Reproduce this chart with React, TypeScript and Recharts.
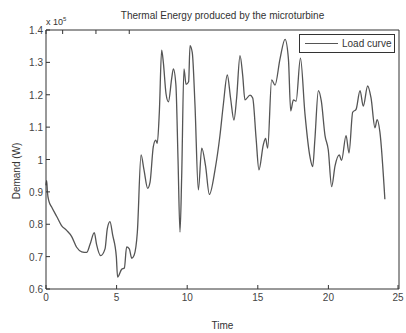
import { LineChart, Line, XAxis, YAxis, Legend } from 'recharts'

const times = [
    0, 0.05, 0.1, 0.2, 0.4, 0.76, 1.1, 1.46, 1.82, 2.17, 2.53, 2.88, 3.12, 3.42, 3.58, 3.87, 4.18, 4.34,
    4.53, 4.72, 4.98, 5.07, 5.36, 5.55, 5.71, 5.9, 6.07, 6.24, 6.47, 6.73, 6.94, 7.2, 7.37, 7.6, 7.77,
    7.88, 8.03, 8.19, 8.31, 8.5, 8.67, 8.9, 9.02, 9.2, 9.35, 9.49, 9.61, 9.77, 9.92, 10.1, 10.2, 10.36,
    10.55, 10.79, 11.03, 11.3, 11.57, 11.97, 12.32, 12.56, 12.84, 13.07, 13.31, 13.5, 13.74, 13.93,
    14.09, 14.45, 14.64, 14.88, 15.08, 15.39, 15.55, 15.7, 15.98, 16.22, 16.57, 16.93, 17.17, 17.33,
    17.52, 17.71, 18.02, 18.34, 18.7, 18.89, 19.04, 19.29, 19.5, 19.76, 19.99, 20.23, 20.47, 20.77,
    20.93, 21.25, 21.46, 21.72, 21.96, 22.24, 22.47, 22.78, 23.02, 23.3, 23.45, 23.65, 24.0,
]

// demand in units of 1e5 W
const demand = [
    0.92, 0.935, 0.9, 0.872, 0.853, 0.824, 0.796, 0.781, 0.762, 0.729, 0.715, 0.713, 0.738, 0.774,
    0.738, 0.703, 0.724, 0.786, 0.808, 0.767, 0.7, 0.637, 0.661, 0.665, 0.73, 0.724, 0.695, 0.704,
    0.776, 1.014, 0.968, 0.911, 0.93, 1.04, 1.06, 1.05, 1.15, 1.338, 1.3, 1.203, 1.178, 1.25, 1.28,
    1.23, 1.0, 0.776, 0.949, 1.28, 1.232, 1.24, 1.352, 1.33, 1.17, 0.906, 1.035, 0.98, 0.892, 0.968,
    1.074, 1.17, 1.261, 1.19, 1.122, 1.19, 1.321, 1.26, 1.184, 1.199, 1.19, 1.065, 0.968, 1.045,
    1.065, 1.035, 1.246, 1.23, 1.31, 1.371, 1.31, 1.15, 1.184, 1.18, 1.313, 1.141, 1.007, 0.978, 1.06,
    1.213, 1.18, 1.074, 1.03, 0.916, 0.98, 1.014, 0.997, 1.074, 1.02, 1.146, 1.155, 1.213, 1.165,
    1.227, 1.19, 1.098, 1.123, 1.084, 0.877,
]

const xTicks = [0, 5, 10, 15, 20, 25]
const yTicks = [60000, 70000, 80000, 90000, 100000, 110000, 120000, 130000, 140000]

const data = times.map((t, i) => ({ time: t, load: demand[i] * 100000 }))

const ink = '#333'
const font = '"Liberation Sans", Arial, sans-serif'

const fmtY = (v: number) => String(Math.round(v / 10000) / 10)

const BottomTick = ({ x, y, payload }: any) => (
    <g>
        <line x1={x} y1={y} x2={x} y2={y - 4} stroke={ink} />
        <text x={x} y={y + 12} textAnchor="middle" fontSize={10} fill="#444" fontFamily={font}>
            {payload.value}
        </text>
    </g>
)

const TopTick = ({ x, y }: any) => <line x1={x} y1={y} x2={x} y2={y + 4} stroke={ink} />

const LeftTick = ({ x, y, payload }: any) => (
    <g>
        <line x1={x} y1={y} x2={x + 4} y2={y} stroke={ink} />
        <text x={x - 3} y={y + 4} textAnchor="end" fontSize={10} fill="#444" fontFamily={font}>
            {fmtY(payload.value)}
        </text>
    </g>
)

const RightTick = ({ x, y }: any) => <line x1={x} y1={y} x2={x - 4} y2={y} stroke={ink} />

const LegendBox = () => (
    <div
        style={{
            border: `1px solid ${ink}`,
            width: 96,
            height: 19,
            background: 'white',
            display: 'flex',
            alignItems: 'center',
            fontFamily: font,
            fontSize: 10,
            color: ink,
            boxSizing: 'border-box',
        }}
    >
        <span style={{ display: 'inline-block', width: 33, height: 0, borderTop: '1px solid #555', margin: '0 4px 0 5px' }} />
        <span>Load curve</span>
    </div>
)

export default function App() {
    return (
        <div style={{ position: 'absolute', left: 0, top: 0, width: 406, height: 333, background: 'white', overflow: 'hidden' }}>
            <LineChart width={406} height={333} data={data} margin={{ top: 0, right: 0, bottom: 0, left: 0 }}>
                <XAxis
                    dataKey="time"
                    type="number"
                    domain={[0, 25]}
                    ticks={xTicks}
                    height={25}
                    tickSize={0}
                    tickMargin={0}
                    tick={<BottomTick />}
                    axisLine={{ stroke: ink }}
                    tickLine={false}
                />
                <XAxis
                    xAxisId="top"
                    orientation="top"
                    type="number"
                    domain={[0, 25]}
                    ticks={xTicks}
                    height={30}
                    tickSize={0}
                    tickMargin={0}
                    tick={<TopTick />}
                    axisLine={{ stroke: ink }}
                    tickLine={false}
                />
                <YAxis
                    type="number"
                    domain={[60000, 140000]}
                    ticks={yTicks}
                    width={46}
                    tickSize={0}
                    tickMargin={0}
                    tick={<LeftTick />}
                    axisLine={{ stroke: ink }}
                    tickLine={false}
                />
                <YAxis
                    yAxisId="right"
                    orientation="right"
                    type="number"
                    domain={[60000, 140000]}
                    ticks={yTicks}
                    width={7}
                    tickSize={0}
                    tickMargin={0}
                    tick={<RightTick />}
                    axisLine={{ stroke: ink }}
                    tickLine={false}
                />
                <Legend
                    content={<LegendBox />}
                    wrapperStyle={{ position: 'absolute', left: 299, top: 34, width: 96 }}
                />
                <Line
                    type="monotone"
                    dataKey="load"
                    name="Load curve"
                    stroke="#555"
                    strokeWidth={1.3}
                    dot={false}
                    isAnimationActive={false}
                />
            </LineChart>
            <div
                style={{
                    position: 'absolute',
                    left: 46,
                    width: 353,
                    top: 10,
                    textAlign: 'center',
                    fontFamily: font,
                    fontSize: 10,
                    color: ink,
                }}
            >
                Thermal Energy produced by the microturbine
            </div>
            <div style={{ position: 'absolute', left: 46, top: 16, fontFamily: font, fontSize: 9, color: ink }}>
                x 10<sup style={{ fontSize: 6 }}>5</sup>
            </div>
            <div
                style={{
                    position: 'absolute',
                    left: 16,
                    top: 171,
                    transform: 'translate(-50%, -50%) rotate(-90deg)',
                    fontFamily: font,
                    fontSize: 10,
                    color: ink,
                    whiteSpace: 'nowrap',
                }}
            >
                Demand (W)
            </div>
            <div
                style={{
                    position: 'absolute',
                    left: 46,
                    width: 353,
                    top: 320,
                    lineHeight: '12px',
                    textAlign: 'center',
                    fontFamily: font,
                    fontSize: 10,
                    color: ink,
                }}
            >
                Time
            </div>
        </div>
    )
}
